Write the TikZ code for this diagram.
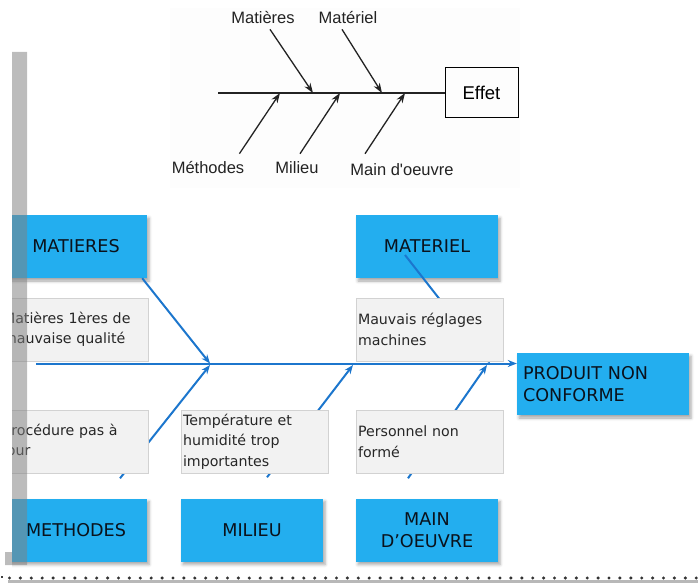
\documentclass[tikz,border=0pt]{standalone}
\usepackage{fontspec}
\setmainfont{DejaVu Sans}
\newfontfamily\sketchfont{Liberation Sans}
\usetikzlibrary{calc, positioning, arrows.meta, shadows.blur}
\definecolor{CauseBlue}{RGB}{35, 174, 239}
\definecolor{BranchBlue}{RGB}{28, 118, 205}
\definecolor{NoteGrey}{RGB}{242, 242, 242}
\definecolor{NoteEdge}{RGB}{210, 210, 210}
\definecolor{InkNavy}{RGB}{10, 18, 28}
\definecolor{BarGrey}{RGB}{129, 129, 129}
\definecolor{SketchInk}{RGB}{35, 35, 35}
\definecolor{PaperWhite}{RGB}{253, 253, 253}

\begin{document}
\begin{tikzpicture}[x=1pt, y=-1pt,
    cause/.style={fill=CauseBlue, minimum width=142pt, minimum height=63pt, inner sep=0pt, align=center,
        text=InkNavy, font=\fontsize{17.6}{22}\selectfont,
        blur shadow={shadow xshift=2pt, shadow yshift=-3pt, shadow blur radius=3pt, shadow opacity=35}},
    note/.style={fill=NoteGrey, draw=NoteEdge, line width=0.8pt, minimum width=147pt, minimum height=63pt,
        inner xsep=2pt, text width=143pt, align=left, text=black!85, font=\fontsize{14.2}{20.5}\selectfont},
    branch/.style={BranchBlue, line width=2pt, -{Stealth[length=9pt, width=7pt]}},
    bone/.style={SketchInk, line width=1.3pt, -{Stealth[length=10pt, width=7pt]}},
    bonelabel/.style={font=\sketchfont\fontsize{16.5}{19}\selectfont, text=SketchInk, inner sep=0pt}]
    \useasboundingbox (0,0) rectangle (698,583);

    % Schema d'Ishikawa (haut)
    \fill[PaperWhite] (170,8) rectangle (520,188);
    \node[draw=black, line width=1pt, minimum width=73pt, minimum height=50pt, font=\sketchfont\fontsize{18.5}{22}\selectfont] (effet) at (481.5,93) {Effet};
    \coordinate (dos) at (218,93);
    \draw[SketchInk, line width=1.3pt] (dos) -- (effet.west);
    \node[bonelabel] (lmat) at (263,18) {Matières};
    \node[bonelabel] (lmatl) at (348,18) {Matériel};
    \node[bonelabel] (lmeth) at (208,168) {Méthodes};
    \node[bonelabel] (lmil) at (297,168) {Milieu};
    \node[bonelabel] (lmain) at (402,170) {Main d'oeuvre};
    \draw[bone] ([shift={(7pt,-5pt)}]lmat.south) -- (313,93);
    \draw[bone] ([shift={(-6pt,-5pt)}]lmatl.south) -- (382,93);
    \draw[bone] ([shift={(-5pt,8pt)}]lmeth.north east) -- (280,93);
    \draw[bone] ([shift={(3pt,8pt)}]lmil.north) -- (340,93);
    \draw[bone] ([shift={(-37pt,10pt)}]lmain.north) -- (405,93);

    % Diagramme detaille (bas)
    \begin{scope}
        \clip (12,190) rectangle (698,572);
        % Causes
        \node[cause] (matieres) at (76,246.5) {MATIERES};
        \node[cause] (materiel) at (427,246.5) {MATERIEL};
        \node[cause] (methodes) at (76,530) {METHODES};
        \node[cause] (milieu) at (252,530) {MILIEU};
        \node[cause] (mainoeuvre) at (427,530) {MAIN\\D’OEUVRE};
        \node[cause, minimum width=172pt, minimum height=62pt, inner xsep=6pt, text width=160pt, align=left] (produit) at (603,384) {PRODUIT NON\\CONFORME};

        % Arete principale et branches
        \coordinate (spine) at (36,363.5);
        \draw[branch] (spine) -- (spine -| produit.west);
        \draw[branch] ([xshift=-5pt]matieres.south east) -- (210,363.5);
        \draw[branch] ([shift={(-22pt,-8.5pt)}]materiel.center) -- (490,363.5);
        \draw[branch] ([shift={(44pt,20pt)}]methodes.north) -- (210,365);
        \draw[branch] ([shift={(15pt,21pt)}]milieu.north) -- (353,365);
        \draw[branch] ([shift={(-19pt,20pt)}]mainoeuvre.north) -- (487,365);

        % Sous-causes
        \node[note] (qualite) at (74.5,329.5) {Matières 1ères de\\mauvaise qualité};
        \node[note] (reglages) at (429.5,329.5) {Mauvais réglages\\machines};
        \node[note] (procedure) at (74.5,441.5) {Procédure pas à\\jour};
        \node[note] (temperature) at (254.5,441.5) {Température et\\humidité trop\\importantes};
        \node[note] (personnel) at (429.5,441.5) {Personnel non\\formé};
    \end{scope}

    % Bord de fenetre
    \fill[BarGrey, opacity=0.53] (12,52) -- (27,52) -- (27,565) -- (5,565) -- (5,552) -- (12,552) -- cycle;
    \fill[black!28] (8,579.5) rectangle (698,583);
    \foreach \i in {0,...,63}
        \fill[black!80] (9.5+\i*10.9,578) circle (1.7);
    \fill[black!75] (1,576) rectangle (3,577.5);
\end{tikzpicture}
\end{document}
